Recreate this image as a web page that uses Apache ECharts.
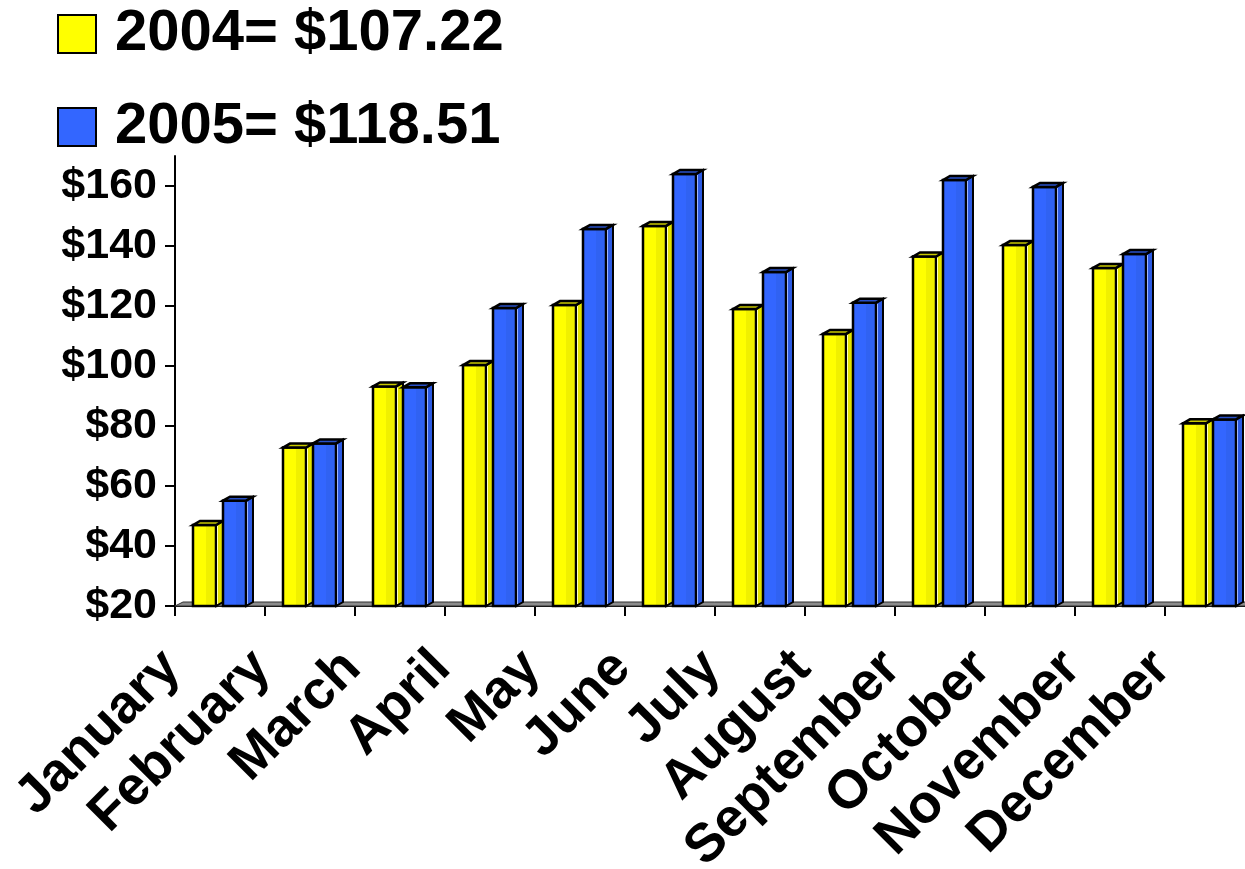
<!DOCTYPE html>
<html>
<head>
<meta charset="utf-8">
<script src="https://cdn.jsdelivr.net/npm/echarts@6/dist/echarts.min.js"></script>
<style>
html,body{margin:0;padding:0;background:#fff;}
#c{width:1245px;height:869px;}
</style>
</head>
<body>
<div id="c"></div>
<script>
const months = ['January','February','March','April','May','June','July','August','September','October','November','December'];
const sales2004 = [47, 72.8, 93.2, 100.3, 120.3, 146.7, 119, 110.7, 136.5, 140.3, 132.7, 80.9];
const sales2005 = [55.1, 74.2, 92.9, 119.3, 145.7, 164, 131.3, 121.1, 162, 159.7, 137.3, 82.2];
const seriesNames = ['2004= $107.22', '2005= $118.51'];
const yTicks = [20, 40, 60, 80, 100, 120, 140, 160];
const yMin = 20, yMax = 170;

const FONT = '"Liberation Sans", Arial, sans-serif';
const palette = [
  {front:'#FFFF00', front2:'#F0F000', side:'#E4E400', top:'#C8C800', hl:'#FFFFB8'},
  {front:'#3366FF', front2:'#3062F2', side:'#2C5AE2', top:'#2850C8', hl:'#9DB4FF'}
];

function makeRender(si){
  const c = palette[si];
  return function(params, api){
    const i = api.value(0), v = api.value(1);
    const top = api.coord([i, v]);
    const base = api.coord([i, yMin]);
    const bw = api.size([1, 0])[0];
    const u = bw / 90;
    const x0 = top[0] - 27*u + si*30*u;
    const fw = 23*u, dx = 7*u, dy = 4*u;
    const yt = top[1], yb = base[1];
    return {
      type: 'group',
      children: [
        {type:'polygon', shape:{points:[[x0+fw,yt],[x0+fw+dx,yt-dy],[x0+fw+dx,yb-dy],[x0+fw,yb]]},
          style:{fill:c.side, stroke:'#000', lineWidth:2}},
        {type:'rect', shape:{x:x0, y:yt, width:fw, height:yb-yt},
          style:{fill:new echarts.graphic.LinearGradient(0,0,1,0,[
            {offset:0,color:c.front},{offset:0.55,color:c.front},{offset:0.55,color:c.front2},{offset:1,color:c.front2}]),
            stroke:'#000', lineWidth:2.5}},
        {type:'line', shape:{x1:x0+fw+1.5, y1:yt+1, x2:x0+fw+1.5, y2:yb-2},
          style:{stroke:c.hl, lineWidth:1}},
        {type:'polygon', shape:{points:[[x0,yt],[x0+dx,yt-dy],[x0+fw+dx,yt-dy],[x0+fw,yt]]},
          style:{fill:c.top, stroke:'#000', lineWidth:2.5}}
      ]
    };
  };
}

function floorRender(params, api){
  const bw = api.size([1, 0])[0];
  const u = bw / 90;
  const a = api.coord([0, yMin]);
  const b = api.coord([months.length-1, yMin]);
  const xl = a[0] - bw/2, xr = b[0] + bw/2, y = a[1];
  const dx = 8*u, dy = 4*u;
  return {type:'polygon', shape:{points:[[xl,y],[xl+dx,y-dy],[xr+dx,y-dy],[xr,y]]},
    style:{fill:'#8c8c8c', stroke:'#333', lineWidth:1}};
}

const chart = echarts.init(document.getElementById('c'), null, {renderer:'canvas'});
chart.setOption({
  backgroundColor:'#fff',
  animation:false,
  legend:{
    orient:'vertical', left:57, top:5, padding:0, itemWidth:38, itemHeight:38, itemGap:35,
    icon:'rect',
    itemStyle:{borderColor:'#000', borderWidth:2},
    textStyle:{fontSize:58, fontWeight:'bold', fontFamily:FONT, color:'#000', lineHeight:56, padding:[0,0,0,14]},
    data: seriesNames
  },
  grid:{left:175, right:-10, top:156, bottom:263, containLabel:false, outerBoundsMode:'none'},
  xAxis:[
    {type:'category', data:months, boundaryGap:true,
      axisLine:{lineStyle:{color:'#000', width:2}},
      axisTick:{show:true, length:10, lineStyle:{color:'#000', width:2}},
      axisLabel:{show:false}, splitLine:{show:false}},
    {type:'category', data:months.concat(['']), boundaryGap:false, position:'bottom',
      axisLine:{show:false}, axisTick:{show:false}, splitLine:{show:false},
      axisLabel:{interval:0, rotate:45, margin:51, padding:[0,4,0,0], hideOverlap:false,
        fontSize:54, fontWeight:'bold', fontFamily:FONT, color:'#000'}}
  ],
  yAxis:{
    type:'value', min:yMin, max:yMax,
    axisLine:{show:true, lineStyle:{color:'#000', width:2}},
    axisTick:{show:true, length:10, lineStyle:{color:'#000', width:2}, customValues:yTicks},
    axisLabel:{customValues:yTicks, margin:18, fontSize:43, fontWeight:'bold', fontFamily:FONT, color:'#000',
      formatter:function(v){return '$' + v;}},
    splitLine:{show:false}
  },
  series:[
    {name:'floor', type:'custom', xAxisIndex:0, renderItem:floorRender, data:[[0, yMin]], silent:true, z:1, clip:false},
    {name:seriesNames[0], type:'custom', xAxisIndex:0, itemStyle:{color:'#FFFF00'},
      renderItem:makeRender(0), data:months.map((m,i)=>[i, sales2004[i]]), encode:{x:0, y:1}, z:2, clip:false},
    {name:seriesNames[1], type:'custom', xAxisIndex:0, itemStyle:{color:'#3366FF'},
      renderItem:makeRender(1), data:months.map((m,i)=>[i, sales2005[i]]), encode:{x:0, y:1}, z:3, clip:false}
  ]
});
</script>
</body>
</html>
